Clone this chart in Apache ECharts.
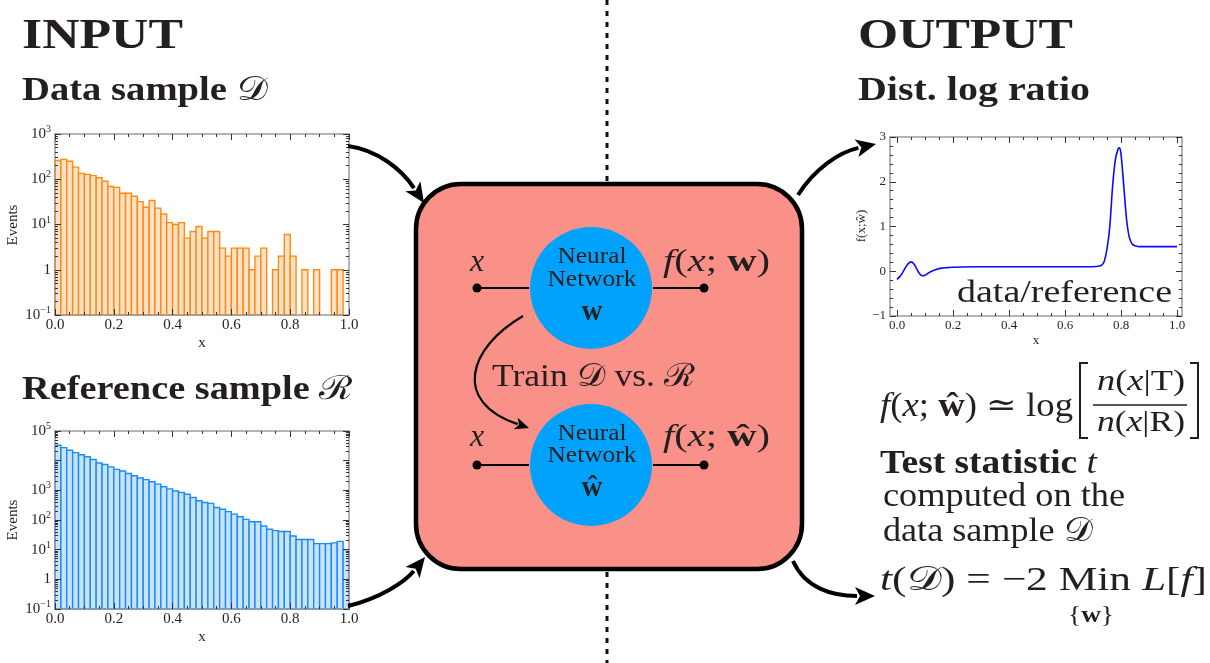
<!DOCTYPE html>
<html>
<head>
<meta charset="utf-8">
<script src="https://cdn.jsdelivr.net/npm/echarts@6.0.0/dist/echarts.min.js"></script>
<style>
  html, body { margin: 0; background: #fff; }
  #chart { width: 1210px; height: 663px; }
</style>
</head>
<body>
<div id="chart"></div>
<script>
// ---- data ----
const binWidth = 0.02;
// data sample D, events per bin (0 = empty bin)
const dataCounts = [
  260, 275, 250, 185, 135, 128, 120, 108, 90, 69,
  66, 49, 49, 42, 32, 24, 34, 23, 17, 11,
  10, 11, 5, 7, 9, 5, 7, 7, 3, 2,
  3, 3, 3, 1, 2, 3, 0, 1, 2, 6,
  2, 0, 1, 0, 1, 0, 0, 1, 1, 0
];
// reference sample R, events per bin
const refCounts = [
  33000, 27500, 22400, 18600, 15800, 13500, 11000, 8300, 7400, 6200,
  5100, 4500, 3700, 3100, 2600, 2300, 1950, 1620, 1320, 1120,
  955, 850, 740, 575, 447, 389, 363, 263, 229, 191,
  158, 129, 105, 87, 87, 63, 49, 44, 41, 41,
  29, 22, 22, 22, 16, 16, 16, 17, 19, 10
];
// learned log ratio f(x; w-hat)
const lineX = [0, 0.01, 0.02, 0.03, 0.04, 0.05, 0.06, 0.07, 0.08, 0.09, 0.10, 0.11, 0.12, 0.14, 0.16, 0.18, 0.20,
  0.30, 0.50, 0.70, 0.72, 0.73, 0.74, 0.75, 0.76, 0.77, 0.78, 0.79, 0.795, 0.80, 0.81, 0.82, 0.83, 0.84, 0.85, 0.87, 0.90, 1.00];
const lineY = [-0.18, -0.12, -0.03, 0.08, 0.17, 0.21, 0.17, 0.06, -0.05, -0.10, -0.09, -0.05, -0.01, 0.04, 0.07, 0.08, 0.09,
  0.10, 0.10, 0.10, 0.11, 0.13, 0.22, 0.50, 1.00, 1.90, 2.50, 2.74, 2.76, 2.62, 1.90, 1.15, 0.75, 0.61, 0.57, 0.55, 0.55, 0.55];

const xTickLabels = ['0.0', '0.2', '0.4', '0.6', '0.8', '1.0'];
const hiddenLogLabels = [10000];   // Mathematica dropped the 10^4 label

// ---- helpers ----
const SERIF = '"Liberation Serif", "DejaVu Serif", serif';
const INK = '#231f20';
const ctx = document.createElement('canvas').getContext('2d');
function measure(t, font) { ctx.font = font; return ctx.measureText(t).width; }

// lay out a row of text pieces on a baseline, stretched to the width seen in the picture
function typeset(pieces, opt) {
  let cur = 0;
  const kids = [];
  pieces.forEach(function (p) {
    const size = p.size || opt.size;
    const font = (p.it ? 'italic' : 'normal') + ' ' + (p.b ? 'bold' : 'normal') + ' ' + size + 'px ' + SERIF;
    kids.push({
      type: 'text', x: cur, y: -0.31 * size + (p.dy || 0), z: 20,
      style: { text: p.t, font: font, fill: INK, align: 'left', verticalAlign: 'middle' }
    });
    cur += measure(p.t, font);
  });
  const sx = opt.w ? opt.w / cur : 1;
  const left = opt.cx !== undefined ? opt.cx - cur * sx / 2 : opt.x;
  return { type: 'group', x: left, y: opt.base, scaleX: sx, children: kids, z: 20 };
}

function arrow(p0, c1, c2, tip, lw, head, hw) {
  const dx = tip[0] - c2[0], dy = tip[1] - c2[1];
  const len = Math.sqrt(dx * dx + dy * dy);
  const ux = dx / len, uy = dy / len;
  const bx = tip[0] - ux * head, by = tip[1] - uy * head;
  return [
    { type: 'bezierCurve', z: 15,
      shape: { x1: p0[0], y1: p0[1], cpx1: c1[0], cpy1: c1[1], cpx2: c2[0], cpy2: c2[1], x2: bx + ux * 2, y2: by + uy * 2 },
      style: { stroke: '#000', lineWidth: lw, fill: null } },
    { type: 'polygon', z: 15,
      shape: { points: [tip, [bx - uy * hw, by + ux * hw], [bx + ux * head * 0.25, by + uy * head * 0.25], [bx + uy * hw, by - ux * hw]] },
      style: { fill: '#000' } }
  ];
}

function histItem(fill, stroke) {
  return function (params, api) {
    const n = api.value(2);
    if (!n) return;
    const tl = api.coord([api.value(0), n]);
    const br = api.coord([api.value(1), 0.1]);
    return {
      type: 'rect',
      shape: { x: tl[0], y: tl[1], width: br[0] - tl[0], height: br[1] - tl[1] },
      style: { fill: fill, stroke: stroke, lineWidth: 1.4 }
    };
  };
}

const frameLine = { show: true, onZero: false, lineStyle: { color: '#9a9a9a', width: 1.5 } };
const noLine = { show: false, onZero: false };
const majorTick = { show: true, inside: true, length: 6, lineStyle: { color: '#333', width: 1 } };
const minorTick = { show: true, length: 3, lineStyle: { color: '#333', width: 1 } };

function xAxes(grid, fontSize, showLine) {
  const base = {
    type: 'value', gridIndex: grid, min: 0, max: 1, interval: 0.2, z: 5,
    axisLine: showLine ? frameLine : noLine,
    axisTick: majorTick,
    minorTick: Object.assign({ splitNumber: 4 }, minorTick),
    splitLine: { show: false }, minorSplitLine: { show: false }
  };
  return [
    Object.assign({}, base, {
      position: 'bottom',
      axisLabel: { fontFamily: SERIF, fontSize: fontSize, color: INK, margin: 3,
        formatter: function (v) { return xTickLabels[Math.round(v * 5)]; } }
    }),
    Object.assign({}, base, { position: 'top', axisLabel: { show: false } })
  ];
}

function logLabel(v) {
  if (hiddenLogLabels.indexOf(Math.round(v)) >= 0) return '';
  const e = Math.round(Math.log10(v));
  if (e === 0) return '1';
  return '10{s|' + (e < 0 ? '\u2212' + (-e) : e) + '}';
}

function logYAxes(grid, max) {
  const hi = Math.round(Math.log10(max));
  const minorVals = [];
  for (let d = -1; d < hi; d++) for (let k = 2; k <= 9; k++) minorVals.push(d + Math.log10(k));
  const base = { type: 'log', logBase: 10, gridIndex: grid, min: 0.1, max: max, z: 5,
    axisLine: frameLine, axisTick: majorTick, splitLine: { show: false } };
  const minor = { type: 'value', gridIndex: grid, min: -1, max: hi, z: 5,
    axisLine: noLine, splitLine: { show: false }, axisLabel: { show: false },
    axisTick: { show: true, inside: true, length: 3, customValues: minorVals, lineStyle: { color: '#333' } } };
  return [
    Object.assign({}, base, { position: 'left',
      axisLabel: { fontFamily: SERIF, fontSize: 15, color: INK, margin: 4, formatter: logLabel,
        rich: { s: { fontFamily: SERIF, fontSize: 10, color: INK, padding: [0, 0, 9, 0] } } } }),
    Object.assign({}, base, { position: 'right', axisLabel: { show: false } }),
    Object.assign({}, minor, { position: 'left' }),
    Object.assign({}, minor, { position: 'right' })
  ];
}

function binData(counts) {
  return counts.map(function (n, i) { return [i * binWidth, (i + 1) * binWidth, n]; });
}

// ---- axes ----
const xAxis = [].concat(xAxes(0, 15, true), xAxes(1, 15, true), xAxes(2, 13, false));
const yAxis = [].concat(logYAxes(0, 1000), logYAxes(1, 100000));
const ratioY = {
  type: 'value', gridIndex: 2, min: -1, max: 3, interval: 1, z: 5,
  axisLine: noLine, axisTick: majorTick, splitLine: { show: false }, minorSplitLine: { show: false },
  minorTick: Object.assign({ splitNumber: 5 }, minorTick)
};
yAxis.push(Object.assign({}, ratioY, { position: 'left', offset: 7,
  axisLabel: { fontFamily: SERIF, fontSize: 13, color: INK, margin: 4,
    formatter: function (v) { return v < 0 ? '\u2212' + (-v) : String(v); } } }));
yAxis.push(Object.assign({}, ratioY, { position: 'right', offset: 5, axisLabel: { show: false } }));

// ---- diagram graphics ----
const g = [];
g.push({ type: 'line', z: 1, shape: { x1: 607, y1: 0, x2: 607, y2: 663 },
  style: { stroke: '#111', lineWidth: 3, lineDash: [5, 6] } });
g.push({ type: 'rect', z: 2, shape: { x: 416, y: 184, width: 386, height: 385, r: 45 },
  style: { fill: '#fa9189', stroke: '#000', lineWidth: 4.5 } });
[288, 465].forEach(function (cy) {
  g.push({ type: 'circle', z: 3, shape: { cx: 591, cy: cy, r: 61 }, style: { fill: '#00a2fb' } });
  g.push({ type: 'line', z: 3, shape: { x1: 477, y1: cy, x2: 529, y2: cy }, style: { stroke: '#000', lineWidth: 2 } });
  g.push({ type: 'line', z: 3, shape: { x1: 653, y1: cy, x2: 704, y2: cy }, style: { stroke: '#000', lineWidth: 2 } });
  g.push({ type: 'circle', z: 3, shape: { cx: 477, cy: cy, r: 4.5 }, style: { fill: '#000' } });
  g.push({ type: 'circle', z: 3, shape: { cx: 704, cy: cy, r: 4.5 }, style: { fill: '#000' } });
});
// frame of the log-ratio plot (padded like Mathematica)
g.push({ type: 'rect', z: 1, shape: { x: 890, y: 137, width: 292, height: 179 },
  style: { fill: null, stroke: '#9a9a9a', lineWidth: 1.5 } });
// bracket and fraction
g.push({ type: 'polyline', z: 10, shape: { points: [[1088, 363], [1080, 363], [1080, 438], [1088, 438]] },
  style: { stroke: INK, lineWidth: 2, fill: null } });
g.push({ type: 'polyline', z: 10, shape: { points: [[1190, 363], [1198, 363], [1198, 438], [1190, 438]] },
  style: { stroke: INK, lineWidth: 2, fill: null } });
g.push({ type: 'line', z: 10, shape: { x1: 1093, y1: 405, x2: 1187, y2: 405 }, style: { stroke: INK, lineWidth: 1.5 } });

// arrows
[].concat(
  arrow([348, 146], [378, 150], [402, 170], [424, 203], 4, 20, 9),
  arrow([348, 606], [380, 598], [405, 582], [425, 557], 4, 20, 9),
  arrow([798, 195], [815, 168], [840, 152], [876, 144], 4, 20, 9),
  arrow([793, 561], [805, 588], [832, 596], [875, 596], 4, 20, 9),
  arrow([523, 316], [468, 348], [452, 402], [529, 428], 2.2, 14, 6)
).forEach(function (e) { g.push(e); });

// titles and formulas
g.push(typeset([{ t: 'INPUT', b: 1 }], { x: 22, base: 50, size: 42, w: 161 }));
g.push(typeset([{ t: 'OUTPUT', b: 1 }], { x: 858, base: 50, size: 42, w: 215 }));
g.push(typeset([{ t: 'Data sample ', b: 1 }, { t: '\uD835\uDC9F' }], { x: 22, base: 102, size: 33, w: 245 }));
g.push(typeset([{ t: 'Reference sample ', b: 1 }, { t: '\u211B' }], { x: 22, base: 401, size: 33, w: 331 }));
g.push(typeset([{ t: 'Dist. log ratio', b: 1 }], { x: 858, base: 102, size: 33, w: 232 }));
g.push(typeset([{ t: 'data/reference' }], { x: 957, base: 303, size: 31, w: 215 }));
g.push(typeset([{ t: 'f', it: 1 }, { t: '(' }, { t: 'x', it: 1 }, { t: '; ' }, { t: '\u0175', b: 1 }, { t: ') \u2243 log' }],
  { x: 880, base: 418, size: 33, w: 193 }));
g.push(typeset([{ t: 'n', it: 1 }, { t: '(' }, { t: 'x', it: 1 }, { t: '|T)' }], { cx: 1141, base: 391, size: 30, w: 88 }));
g.push(typeset([{ t: 'n', it: 1 }, { t: '(' }, { t: 'x', it: 1 }, { t: '|R)' }], { cx: 1141, base: 432, size: 30, w: 88 }));
g.push(typeset([{ t: 'Test statistic ', b: 1 }, { t: 't', it: 1 }], { x: 880, base: 475, size: 33, w: 217 }));
g.push(typeset([{ t: 'computed on the' }], { x: 883, base: 508, size: 33, w: 242 }));
g.push(typeset([{ t: 'data sample ' }, { t: '\uD835\uDC9F' }], { x: 883, base: 543, size: 33, w: 209 }));
g.push(typeset([{ t: 't', it: 1 }, { t: '(' }, { t: '\uD835\uDC9F' }, { t: ') = \u22122 Min ' }, { t: 'L', it: 1 },
  { t: '[' }, { t: 'f', it: 1 }, { t: ']' }], { x: 880, base: 592, size: 34, w: 327 }));
g.push(typeset([{ t: '{' }, { t: 'w', b: 1 }, { t: '}' }], { cx: 1091, base: 623, size: 24, w: 46 }));
g.push(typeset([{ t: 'Train ' }, { t: '\uD835\uDC9F' }, { t: ' vs. ' }, { t: '\u211B' }], { x: 492, base: 388, size: 32, w: 203 }));
[[273, 'w'], [448, '\u0175']].forEach(function (r) {
  g.push(typeset([{ t: 'x', it: 1 }], { cx: 477, base: r[0], size: 32 }));
  g.push(typeset([{ t: 'f', it: 1 }, { t: '(' }, { t: 'x', it: 1 }, { t: '; ' }, { t: r[1], b: 1 }, { t: ')' }],
    { x: 663, base: r[0], size: 32, w: 107 }));
});
g.push(typeset([{ t: 'Neural' }], { cx: 592, base: 264, size: 24, w: 69 }));
g.push(typeset([{ t: 'Network' }], { cx: 592, base: 287, size: 24, w: 89 }));
g.push(typeset([{ t: 'w', b: 1 }], { cx: 592, base: 322, size: 29 }));
g.push(typeset([{ t: 'Neural' }], { cx: 592, base: 441, size: 24, w: 69 }));
g.push(typeset([{ t: 'Network' }], { cx: 592, base: 463, size: 24, w: 89 }));
g.push(typeset([{ t: '\u0175', b: 1 }], { cx: 592, base: 498, size: 29 }));

// axis titles of the small plots
function axisTitle(text, x, y, rot, size) {
  return { type: 'text', x: x, y: y, rotation: rot, z: 20,
    style: { text: text, font: size + 'px ' + SERIF, fill: INK, align: 'center', verticalAlign: 'middle' } };
}
g.push(axisTitle('Events', 13, 225, Math.PI / 2, 15));
g.push(axisTitle('Events', 13, 520, Math.PI / 2, 15));
g.push(axisTitle('x', 202, 343, 0, 15));
g.push(axisTitle('x', 202, 637, 0, 15));
g.push(axisTitle('f(x;\u0175)', 862, 226, Math.PI / 2, 13));
g.push(axisTitle('x', 1036, 341, 0, 13));

// ---- chart ----
const chart = echarts.init(document.getElementById('chart'));
chart.setOption({
  animation: false,
  backgroundColor: '#fff',
  grid: [
    { left: 55, top: 134, width: 294, height: 181, containLabel: false, outerBoundsMode: 'none' },
    { left: 55, top: 431, width: 294, height: 178, containLabel: false, outerBoundsMode: 'none' },
    { left: 897, top: 137, width: 280, height: 179, containLabel: false, outerBoundsMode: 'none' }
  ],
  xAxis: xAxis,
  yAxis: yAxis,
  series: [
    { type: 'custom', xAxisIndex: 0, yAxisIndex: 0, data: binData(dataCounts),
      encode: { x: [0, 1], y: 2 }, renderItem: histItem('#fee1c6', '#ff8a10') },
    { type: 'custom', xAxisIndex: 2, yAxisIndex: 4, data: binData(refCounts),
      encode: { x: [0, 1], y: 2 }, renderItem: histItem('#c9e3fb', '#1c8cf5') },
    { type: 'line', xAxisIndex: 4, yAxisIndex: 8, showSymbol: false, smooth: 0.3,
      data: lineX.map(function (x, i) { return [x, lineY[i]]; }),
      lineStyle: { color: '#0a0aff', width: 1.6 } }
  ],
  graphic: { elements: g }
});
</script>
</body>
</html>
